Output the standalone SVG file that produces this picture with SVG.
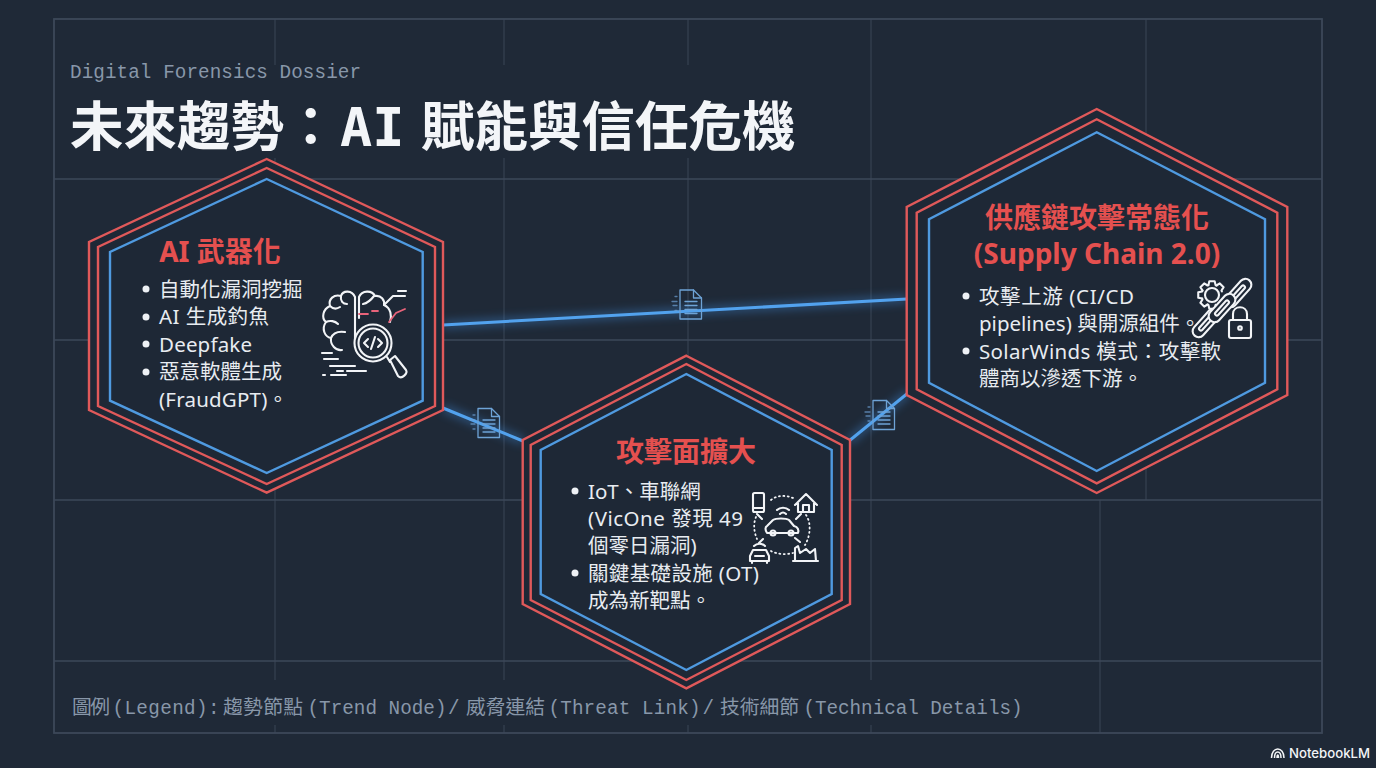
<svg xmlns="http://www.w3.org/2000/svg" width="1376" height="768" viewBox="0 0 1376 768">
<style>
.grid{stroke:#3a4657;stroke-width:1;fill:none}
.gridh{stroke:#3c4859;stroke-width:1.5;fill:none}
.red{fill:none;stroke:#e0595a;stroke-width:2.4;stroke-linejoin:miter}
.blue{fill:none;stroke:#4f9ae0;stroke-width:2.4;stroke-linejoin:miter}
.back{fill:#1e2836}
.mono{font-family:"Liberation Mono","DejaVu Sans Mono",monospace;fill:#8897a9;font-size:19.300px}
.cjk{font-family:"Noto Sans CJK TC",sans-serif;fill:#8897a9;font-size:19.800px}
.head{font-family:"Noto Sans","Noto Sans CJK TC",sans-serif;font-weight:700;fill:#e5504f;font-size:28px;text-anchor:middle}
.body{font-family:"Noto Sans","Noto Sans CJK TC",sans-serif;fill:#e8ecf1;font-size:20.500px}
.dot{fill:#eef1f5}
.link{fill:none;stroke:#52a2ee;stroke-width:3}
.glow{fill:none;stroke:#3f8fe0;stroke-width:9;opacity:.35;filter:url(#blur)}
.ic{fill:none;stroke:#f2f4f7;stroke-width:2.100;stroke-linecap:round;stroke-linejoin:round}
.icf{fill:#1e2836;stroke:#f2f4f7;stroke-width:2.100;stroke-linecap:round;stroke-linejoin:round}
.icd{fill:none;stroke:#f2f4f7;stroke-width:1.800;stroke-linecap:round;stroke-dasharray:1 3.400}
.icr{fill:none;stroke:#e8637a;stroke-width:1.800;stroke-linecap:round}
.doc{fill:none;stroke:#6ea3d6;stroke-width:1.300;stroke-linejoin:round;stroke-linecap:round}
</style>
<defs>
<filter id="blur" x="-20%" y="-200%" width="140%" height="500%"><feGaussianBlur stdDeviation="4"/></filter>
<g id="docIcon">
<path class="doc" d="M0 -14.500H13.500L21.500 -6.500V14.500H0Z"/>
<path class="doc" d="M13.500 -14.500V-6.500H21.500"/>
<path class="doc" d="M5 -3H17M5 1H17M5 5H17M5 9H17"/>
<path class="doc" d="M-5 -8H-3M-8 -3H-3M-7 1H-3M-5 6H-3" opacity=".7"/>
</g>
<path id="tooth" class="ic" d="M9.870 -3.590L13.740 -2.670V2.670L9.870 3.590L9.520 4.440"/>
<g id="chainLink">
<rect class="icf" x="-17" y="-6" width="34" height="12" rx="6"/>
<rect class="ic" x="-9.500" y="-1.800" width="19" height="3.600" rx="1.800"/>
</g>
</defs>
<rect width="1376" height="768" fill="#1f2937"/>
<g id="grid">
<path class="grid" d="M275 19V733M504 19V733M688 19V733M871 19V733M1146 19V500M1100 500V733"/>
<path class="gridh" d="M54 179H1322M54 340H1322M54 500H1322M54 661H1322"/>
<rect x="60" y="65" width="790" height="93" fill="#1f2937"/>
<rect x="60" y="680" width="1000" height="45" fill="#1f2937"/>
<rect x="54" y="19" width="1268" height="714" fill="none" stroke="#3c4859" stroke-width="1.800"/>
</g>
<text id="eyebrow" class="mono" x="70" y="78" textLength="291">Digital Forensics Dossier</text>
<text id="title" y="146" font-family="'Noto Sans CJK TC',sans-serif" font-weight="700" font-size="53.500" fill="#f3f5f8"><tspan x="70">未來趨勢：</tspan><tspan x="340" font-family="'DejaVu Sans Mono',monospace">AI</tspan><tspan x="421">賦能與信任危機</tspan></text>
<g id="connectors">
<path class="glow" d="M443 325L907 299"/><path class="glow" d="M443 408L523 441"/><path class="glow" d="M849 441L908 393"/>
<path class="link" d="M443 325L907 299"/><path class="link" d="M443 408L523 441"/><path class="link" d="M849 441L908 393"/>
<use href="#docIcon" x="680" y="304.500"/><use href="#docIcon" x="478" y="423"/><use href="#docIcon" x="873" y="415"/>
</g>
<g id="node-ai">
<polygon class="back" points="266.700,159 443,242 443,410 266.700,492.700 89,410 89,242"/>
<polygon class="red" points="266.700,159 443,242 443,410 266.700,492.700 89,410 89,242"/>
<polygon class="red" points="266.700,168 435,247 435,406 266.700,484 98,406 98,247"/>
<polygon class="blue" points="266.700,179 422.700,252 422.700,400.700 266.700,473 110,400.700 110,252"/>
<text class="head" x="220" y="262">AI 武器化</text>
<circle class="dot" cx="146" cy="289" r="3.500"/><circle class="dot" cx="146" cy="317" r="3.500"/><circle class="dot" cx="146" cy="344" r="3.500"/><circle class="dot" cx="146" cy="372" r="3.500"/>
<text class="body" x="159" y="296.500">自動化漏洞挖掘</text>
<text class="body" x="159" y="324" textLength="110">AI 生成釣魚</text>
<text class="body" x="159" y="351.500" textLength="93">Deepfake</text>
<text class="body" x="159" y="379">惡意軟體生成</text>
<text class="body" x="159" y="406.500" textLength="129">(FraudGPT)。</text>
<g id="icon-brain">
<path class="ic" d="M355 342V297C352 290 343 290 341 296C334 294 328 299 330 306C323 309 321 318 326 322C321 329 325 337 331 338C330 345 336 351 342 350"/>
<path class="ic" d="M359 318V297C362 290 372 290 375 296C381 295 385 300 384 305L393 296H405"/>
<path class="ic" d="M384 305C391 308 392 316 390 322"/>
<path class="ic" d="M398 291H406M341 296C340 301 343 304 347 304M330 306C333 309 337 309 340 307M326 322C330 320 335 321 338 324M331 338C333 333 338 331 345 332M374 296C371 300 368 303 363 304"/>
<path class="icr" d="M378 311H372M389 322L396 313L405 309M359 314H368"/>
<circle cx="373" cy="343" r="18.500" class="icf"/>
<circle cx="373" cy="343" r="14.500" class="ic"/>
<path class="ic" d="M368 339L364 343L368 347M378 339L382 343L378 347M375 337L371 349"/>
<path class="ic" d="M387 357L390 362"/>
<path class="ic" d="M390 360L395 356L406 370C408 373 402 380 398 376Z"/>
<path class="ic" d="M322 353H332M324 359H338M330 366H355M337 371H343M347 371H366M323 375H325M331 375H346"/>
</g>
</g>
<g id="node-attack-surface">
<polygon class="back" points="686.300,355.700 850,440 850,604 686.300,688.300 522.700,604 522.700,440"/>
<polygon class="red" points="686.300,355.700 850,440 850,604 686.300,688.300 522.700,604 522.700,440"/>
<polygon class="red" points="686.300,364 841.700,445 841.700,600 686.300,680 530.700,600 530.700,445"/>
<polygon class="blue" points="686.300,374 831.700,450 831.700,594 686.300,670 540.700,594 540.700,450"/>
<text class="head" x="686" y="462">攻擊面擴大</text>
<circle class="dot" cx="575" cy="491" r="3.500"/><circle class="dot" cx="575" cy="573" r="3.500"/>
<text class="body" x="588" y="498.500">IoT、車聯網</text>
<text class="body" x="588" y="525.500" textLength="155">(VicOne 發現 49</text>
<text class="body" x="588" y="552.500">個零日漏洞)</text>
<text class="body" x="588" y="580.500" textLength="171">關鍵基礎設施 (OT)</text>
<text class="body" x="588" y="607.500">成為新靶點。</text>
<g id="icon-iot">
<rect class="ic" x="753" y="493" width="11" height="19" rx="1.500"/>
<path class="ic" d="M753 508H764M795 505L806 494L817 505M798 503V512H814V503M803 512V505H809V512"/>
<path class="ic" d="M767 526L773 520C776 518 786 518 789 520L794 526C798 527 799 530 798 533H767C765 530 765 527 767 526Z"/>
<circle class="ic" cx="773" cy="533" r="2.500"/><circle class="ic" cx="791" cy="533" r="2.500"/>
<path class="ic" d="M777 510C780 507 786 507 789 510M780 514C782 512 784 512 786 514"/>
<path class="icd" d="M771 500C777 495 786 495 793 498M756 517C753 524 754 532 757 539M806 515C811 522 811 535 805 545M771 551C776 554 786 555 793 553"/>
<path class="ic" d="M757 514L762 519M801 514L796 519M759 543L763 539M800 542L795 538"/>
<path class="ic" d="M754 546C757 543 762 543 765 546M753 550H766L769 556V561H750V556ZM755 556H764M752 561V563M767 561V563"/>
<path class="ic" d="M795 561V548L798 546L800 553L806 549L810 553L815 549L816 561ZM793 561H818"/>
</g>
</g>
<g id="node-supply-chain">
<polygon class="back" points="1096.700,109 1287.300,207 1287.300,395 1096.700,493 906.700,395 906.700,207"/>
<polygon class="red" points="1096.700,109 1287.300,207 1287.300,395 1096.700,493 906.700,395 906.700,207"/>
<polygon class="red" points="1096.700,119.300 1277.300,212.700 1277.300,389.300 1096.700,483.300 916.700,389.300 916.700,212.700"/>
<polygon class="blue" points="1096.700,132.300 1265,219.300 1265,382.700 1096.700,471 929,382.700 929,219.300"/>
<text class="head" x="1097" y="228">供應鏈攻擊常態化</text>
<text class="head" x="1097" y="264">(Supply Chain 2.0)</text>
<circle class="dot" cx="966" cy="296" r="3.500"/><circle class="dot" cx="966" cy="351" r="3.500"/>
<text class="body" x="979" y="303.500" textLength="155">攻擊上游 (CI/CD</text>
<text class="body" x="979" y="331">pipelines) 與開源組件。</text>
<text class="body" x="979" y="358.500" textLength="242">SolarWinds 模式：攻擊軟</text>
<text class="body" x="979" y="386">體商以滲透下游。</text>
<g id="icon-chain">
<circle class="ic" cx="1212" cy="295" r="7"/>
<g transform="translate(1212 295)">
<use href="#tooth" transform="rotate(90)"/><use href="#tooth" transform="rotate(135)"/><use href="#tooth" transform="rotate(180)"/><use href="#tooth" transform="rotate(225)"/><use href="#tooth" transform="rotate(270)"/><use href="#tooth" transform="rotate(315)"/>
</g>
<use href="#chainLink" transform="translate(1206 323) rotate(-48)"/>
<use href="#chainLink" transform="translate(1238 293) rotate(-48)"/>
<use href="#chainLink" transform="translate(1222 308) rotate(-48)"/>
<rect class="icf" x="1229" y="320" width="22" height="18" rx="2"/>
<path class="ic" d="M1233 320V314C1233 305 1247 305 1247 314V320"/>
<circle class="ic" cx="1240" cy="328" r="1.800"/>
</g>
</g>
<g id="legend">
<text class="cjk" x="72" y="714" textLength="38">圖例</text>
<text class="mono" x="112.500" y="714" textLength="107">(Legend):</text>
<text class="cjk" x="223" y="714" textLength="80">趨勢節點</text>
<text class="mono" x="307.500" y="714" textLength="139">(Trend Node)</text>
<text class="mono" x="448" y="714">/</text>
<text class="cjk" x="466" y="714" textLength="79">威脅連結</text>
<text class="mono" x="548.500" y="714" textLength="152">(Threat Link)</text>
<text class="mono" x="702.500" y="714">/</text>
<text class="cjk" x="720" y="714" textLength="79">技術細節</text>
<text class="mono" x="803.500" y="714" textLength="219">(Technical Details)</text>
</g>
<g id="watermark">
<path d="M1271.500 758C1271.500 746 1284 746 1284 758M1274.500 758C1274.500 750 1281 750 1281 758M1277 758C1277 754 1278.500 754 1278.500 758" fill="none" stroke="#f2f4f7" stroke-width="1.500"/>
<text x="1289" y="757.500" font-family="Inter,'Noto Sans',sans-serif" font-weight="500" font-size="13.200" fill="#f2f4f7">NotebookLM</text>
</g>
</svg>
